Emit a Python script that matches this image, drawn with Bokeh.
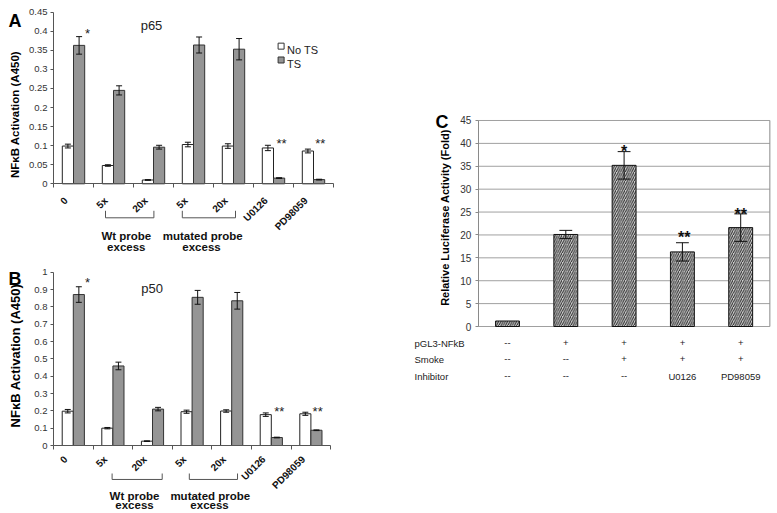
import numpy as np
from bokeh.plotting import figure
from bokeh.models import LinearAxis, FixedTicker, CustomJSTickFormatter, Spacer
from bokeh.layouts import row, column
from bokeh.core.properties import value
from bokeh.embed import file_html
from bokeh.resources import INLINE

# ---------------- data ----------------
group_labels = ["0", "5x", "20x", "5x", "20x", "U0126", "PD98059"]
series_names = ["No TS", "TS"]

a_no_ts = [0.099, 0.048, 0.010, 0.103, 0.099, 0.094, 0.086]
a_no_ts_err = [0.005, 0.002, 0.001, 0.006, 0.006, 0.007, 0.005]
a_ts = [0.363, 0.245, 0.096, 0.364, 0.353, 0.015, 0.011]
a_ts_err = [0.023, 0.012, 0.005, 0.021, 0.028, 0.001, 0.001]
a_yticks = [0, 0.05, 0.1, 0.15, 0.2, 0.25, 0.3, 0.35, 0.4, 0.45]

b_no_ts = [0.198, 0.100, 0.025, 0.195, 0.199, 0.178, 0.183]
b_no_ts_err = [0.010, 0.004, 0.002, 0.009, 0.007, 0.010, 0.009]
b_ts = [0.871, 0.459, 0.210, 0.855, 0.835, 0.046, 0.088]
b_ts_err = [0.045, 0.022, 0.010, 0.040, 0.048, 0.002, 0.002]
b_yticks = [0, 0.1, 0.2, 0.3, 0.4, 0.5, 0.6, 0.7, 0.8, 0.9, 1]

c_values = [1.2, 20.1, 35.2, 16.3, 21.6]
c_err = [0.0, 0.9, 3.0, 2.0, 3.0]
c_yticks = [0, 5, 10, 15, 20, 25, 30, 35, 40, 45]
c_row_labels = ["pGL3-NFkB", "Smoke", "Inhibitor"]
c_table = [["--", "+", "+", "+", "+"],
           ["--", "--", "+", "+", "+"],
           ["--", "--", "--", "U0126", "PD98059"]]

FONT = "Liberation Sans"
F = value(FONT)
fmt = CustomJSTickFormatter(code="return String(tick)")
empty_fmt = CustomJSTickFormatter(code="return ''")


def base_fig(w, h, first_px, kx, axis_px, ky):
    """Figure whose frame fills the canvas; first category at first_px,
    value 0 at axis_px (from top), kx / ky pixels per unit."""
    xr = (1 - first_px / kx, 1 + (w - first_px) / kx)
    yr = (-(h - axis_px) / ky, axis_px / ky)
    p = figure(width=w, height=h, x_range=xr, y_range=yr, x_axis_type=None,
               y_axis_type=None, output_backend="svg", toolbar_location=None,
               min_border=0, outline_line_color=None, background_fill_color="white",
               border_fill_color="white")
    p.grid.visible = False
    return p


def err_segments(xs, vals, errs, cap):
    x0, y0, x1, y1 = [], [], [], []
    for x, v, e in zip(xs, vals, errs):
        if e <= 0:
            continue
        x0 += [x, x - cap / 2, x - cap / 2]
        x1 += [x, x + cap / 2, x + cap / 2]
        y0 += [v - e, v - e, v + e]
        y1 += [v + e, v - e, v + e]
    return x0, y0, x1, y1


def group_panel(geom, no_ts, no_ts_err, ts, ts_err, yticks, letter, letter_pos,
                title, title_pos, ylabel_pos, ylabel_size, label_standoff, brackets, bracket_y,
                texts_y, star1, star2_y, legend=False):
    p = base_fig(*geom)
    n = len(group_labels)
    g = np.arange(1, n + 1, dtype=float)
    yax = LinearAxis(fixed_location=0.5, bounds=(yticks[0], yticks[-1]),
                     ticker=FixedTicker(ticks=yticks), formatter=fmt,
                     axis_line_color="#555555", major_tick_line_color="#555555",
                     major_tick_out=3, major_tick_in=0, minor_tick_out=0, minor_tick_in=0,
                     major_label_standoff=3, major_label_text_font=FONT,
                     major_label_text_font_size="9.5px", major_label_text_color="#333333")
    p.add_layout(yax, "left")
    # category axis line with ticks between the groups
    xax = LinearAxis(fixed_location=0, bounds=(0.5, n + 0.5),
                     ticker=FixedTicker(ticks=list(np.arange(0.5, n + 1, 1.0))),
                     formatter=empty_fmt, axis_line_color="#555555",
                     major_tick_line_color="#555555", major_tick_out=4, major_tick_in=0,
                     minor_tick_out=0, minor_tick_in=0)
    p.add_layout(xax, "below")
    # slanted category labels (an axis of its own, no line, no ticks)
    lab_ax = LinearAxis(fixed_location=0, ticker=FixedTicker(ticks=list(g - 0.19)),
                        formatter=CustomJSTickFormatter(args=dict(labels=group_labels),
                                                        code="return labels[index]"),
                        major_label_orientation=np.pi / 4, axis_line_color=None,
                        major_tick_line_color=None, major_tick_out=0, major_tick_in=0,
                        minor_tick_out=0, minor_tick_in=0,
                        major_label_standoff=label_standoff, major_label_text_font=FONT,
                        major_label_text_font_style="bold",
                        major_label_text_font_size="10px",
                        major_label_text_color="#111111")
    p.add_layout(lab_ax, "below")
    bw = 0.28
    p.vbar(x=g - bw / 2, width=bw, top=no_ts, bottom=0, fill_color="white",
           line_color="#222222", line_width=1)
    p.vbar(x=g + bw / 2, width=bw, top=ts, bottom=0, fill_color="#959595",
           line_color="#333333", line_width=1)
    for xs, v, e in [(g - bw / 2, no_ts, no_ts_err), (g + bw / 2, ts, ts_err)]:
        x0, y0, x1, y1 = err_segments(xs, v, e, 0.15)
        p.segment(x0=x0, y0=y0, x1=x1, y1=y1, line_color="#111111", line_width=1)
    for (xa, xb) in brackets:
        p.line(x=[xa, xa, xb, xb], y=[bracket_y[0], bracket_y[1], bracket_y[1], bracket_y[0]],
               line_color="#555555", line_width=1)
    caps = [("Wt probe", "excess"), ("mutated probe", "excess")]
    for (l1, l2), (cx1, cx2) in zip(caps, texts_y[2]):
        p.text(x=[cx1], y=[texts_y[0]], text=[l1], text_align="center",
               text_baseline="alphabetic", text_font=F, text_font_style="bold",
               text_font_size="11.5px", text_color="#111111")
        p.text(x=[cx2], y=[texts_y[1]], text=[l2], text_align="center",
               text_baseline="alphabetic", text_font=F, text_font_style="bold",
               text_font_size="11.5px", text_color="#111111")
    p.text(x=[letter_pos[0]], y=[letter_pos[1]], text=[letter], text_align="left",
           text_baseline="alphabetic", text_font=F, text_font_style="bold",
           text_font_size="18px", text_color="black")
    p.text(x=[title_pos[0]], y=[title_pos[1]], text=[title], text_align="center",
           text_baseline="alphabetic", text_font=F, text_font_size="13px",
           text_color="#222222")
    p.text(x=[ylabel_pos[0]], y=[ylabel_pos[1]], text=["NF\u03baB Activation (A450)"],
           angle=np.pi / 2, text_align="center", text_baseline="alphabetic",
           text_font=F, text_font_style="bold", text_font_size=ylabel_size,
           text_color="black")
    p.text(x=[star1[0]], y=[star1[1]], text=["*"], text_align="center",
           text_baseline="alphabetic", text_font=F, text_font_size="13px",
           text_color="#222222")
    p.text(x=[n - 1 + 0.2, n + 0.17], y=[star2_y, star2_y], text=["**", "**"],
           text_align="center", text_baseline="alphabetic", text_font=F,
           text_font_size="13px", text_color="#222222")
    if legend:
        p.scatter(x=[6.19, 6.19], y=[0.361, 0.3247], marker="square", size=6,
                  fill_color=["white", "#959595"], line_color="#333333")
        p.text(x=[6.34, 6.34], y=[0.351, 0.314], text=series_names, text_align="left",
               text_baseline="alphabetic", text_font=F, text_font_size="11px",
               text_color="#222222")
    return p


# geometry: width, height, first-category px, px/category, axis px from top, px/unit
pa = group_panel((400, 253, 73, 40.0, 183.3, 381.3),
                 a_no_ts, a_no_ts_err, a_ts, a_ts_err, a_yticks,
                 "A", (-0.625, 0.428), "p65", (2.95, 0.415), (-0.475, 0.1817), "11.5px",
                 15, [(1.8, 3.01), (3.72, 5.05)], (-0.0708, -0.0892),
                 (-0.137, -0.167, [(2.32, 2.32), (4.23, 4.2)]),
                 (1.35, 0.393), 0.107, legend=True)

pb = group_panel((400, 260, 72.8, 39.6, 192.0, 173.3),
                 b_no_ts, b_no_ts_err, b_ts, b_ts_err, b_yticks,
                 "B", (-0.636, 0.961), "p50", (2.99, 0.906), (-0.46, 0.519), "13px",
                 12, [(1.98, 3.245), (3.93, 5.147)], (-0.1616, -0.196),
                 (-0.294, -0.343, [(2.545, 2.545), (4.46, 4.44)]),
                 (1.36, 0.938), 0.199)

# ---------------- panel C ----------------
pc = base_fig(377, 290, 107, 58.3, 226.0, 4.578)
k = np.arange(1, len(c_values) + 1, dtype=float)
x_lo, x_hi = 0.5, len(c_values) + 0.5
pc.segment(x0=[x_lo] * len(c_yticks), y0=c_yticks, x1=[x_hi] * len(c_yticks), y1=c_yticks,
           line_color="#a0a0a0", line_width=1)
pc.segment(x0=[x_hi], y0=[c_yticks[0]], x1=[x_hi], y1=[c_yticks[-1]],
           line_color="#8a8a8a", line_width=1)
cy = LinearAxis(fixed_location=0.5, bounds=(c_yticks[0], c_yticks[-1]),
                ticker=FixedTicker(ticks=c_yticks), formatter=fmt,
                axis_line_color="#8a8a8a", major_tick_line_color="#8a8a8a",
                major_tick_out=3, major_tick_in=0, minor_tick_out=0, minor_tick_in=0,
                major_label_standoff=4, major_label_text_font=FONT,
                major_label_text_font_size="10px", major_label_text_color="#333333")
pc.add_layout(cy, "left")
pc.vbar(x=k, width=0.41, top=c_values, bottom=0, fill_color="#cfcfcf",
        line_color="#111111", line_width=1, hatch_pattern="/", hatch_color="#2a2a2a",
        hatch_scale=4.5, hatch_weight=1)
x0, y0, x1, y1 = err_segments(k, c_values, c_err, 0.22)
pc.segment(x0=x0, y0=y0, x1=x1, y1=y1, line_color="#111111", line_width=1)
pc.text(x=[3, 4.03, 5.0], y=[38.2, 19.4, 24.5], text=["*", "**", "**"],
        text_align="center", text_baseline="alphabetic", text_font=F,
        text_font_style="bold", text_font_size="16px", text_color="#111111")
pc.text(x=[-0.235], y=[44.6], text=["C"], text_align="left", text_baseline="alphabetic",
        text_font=F, text_font_style="bold", text_font_size="18px", text_color="black")
pc.text(x=[-0.0806], y=[23.8], text=["Relative Luciferase Activity (Fold)"],
        angle=np.pi / 2, text_align="center", text_baseline="alphabetic", text_font=F,
        text_font_style="bold", text_font_size="11px", text_color="black")
row_y = [-3.71, -7.1, -10.92]
pc.text(x=[-0.595] * 3, y=row_y, text=c_row_labels, text_align="left",
        text_baseline="alphabetic", text_font=F, text_font_size="9.5px",
        text_color="#222222")
for ry, vals in zip(row_y, c_table):
    pc.text(x=list(k), y=[ry] * len(vals), text=vals, text_align="center",
            text_baseline="alphabetic", text_font=F, text_font_size="9.5px",
            text_color="#222222")

page = row(column(pa, pb), column(Spacer(width=377, height=100), pc))
open("out.html", "w").write(file_html(page, INLINE, title="NFkB activation"))
